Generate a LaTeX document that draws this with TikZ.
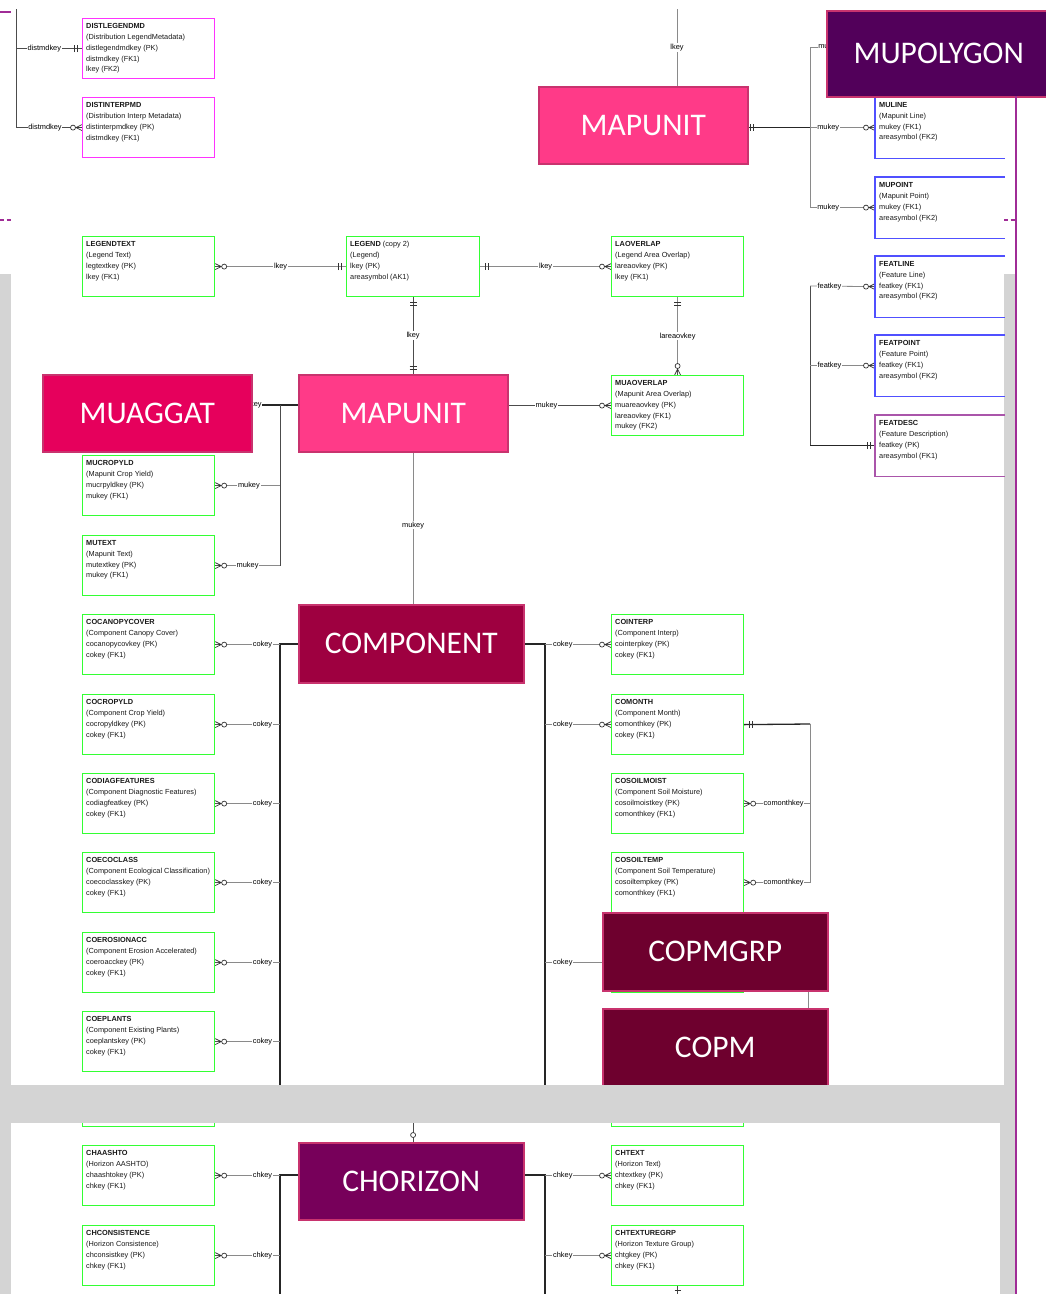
\documentclass[tikz,border=0pt]{standalone}
\usepackage{fontspec}
\setmainfont{Liberation Sans}
\newfontfamily\bigfont{Carlito}
\usetikzlibrary{positioning}

\definecolor{mupink}{HTML}{FF3A88}
\definecolor{aggpink}{HTML}{E6005C}
\definecolor{compred}{HTML}{9E0040}
\definecolor{copmred}{HTML}{6E002E}
\definecolor{horizon}{HTML}{77005A}
\definecolor{polyplum}{HTML}{52005A}
\definecolor{bigedge}{HTML}{C8336E}
\definecolor{entgreen}{HTML}{33FF33}
\definecolor{entmag}{HTML}{FF33FF}
\definecolor{entblue}{HTML}{5050FF}
\definecolor{entplum}{HTML}{AA55AA}
\definecolor{linkgray}{HTML}{8A8A8A}
\definecolor{slidegray}{HTML}{D4D4D4}
\definecolor{framepurple}{HTML}{A02C96}

\pgfdeclarelayer{slide}
\pgfdeclarelayer{wires}
\pgfdeclarelayer{front}
\pgfsetlayers{slide,wires,main,front}

\begin{document}
\begin{tikzpicture}[x=1pt, y=-1pt,
    ent/.style={draw=#1, line width=1.2pt, minimum width=132pt, minimum height=60pt, inner sep=0pt, anchor=north west},
    enttxt/.style={anchor=north west, inner sep=0pt, align=left, text=black!90, font=\fontsize{7.35}{10.8}\selectfont},
    bigent/.style={fill=#1, draw=bigedge, line width=1.5pt, text=white, font=\bigfont\fontsize{31.5}{38}\selectfont, minimum width=209pt, minimum height=77pt, inner sep=0pt, anchor=north west},
    lnk/.style={draw=linkgray, line width=0.8pt},
    blk/.style={draw=black!85, line width=1.3pt},
    keylbl/.style={fill=white, inner sep=0.8pt, font=\fontsize{7.4}{8}\selectfont},
    tipline/.style={draw=black!80, line width=0.7pt},
    zmany/.pic={\draw[tipline] (0,3) -- (6,0) -- (0,-3) (0,0) -- (6,0); \draw[tipline, fill=white] (9,0) circle (2.5);},
    oneone/.pic={\draw[tipline] (5,-3.5) -- (5,3.5) (8,-3.5) -- (8,3.5);}]

  \useasboundingbox (0,0) rectangle (1046,1294);

  \begin{pgfonlayer}{slide}
    \fill[white] (0,0) rectangle (1046,1294);
    \fill[slidegray] (0,274) rectangle (1016,1294);
    \fill[white] (11,274) rectangle (1004,1085);
    \fill[white] (11,1123) rectangle (1000,1294);
  \end{pgfonlayer}

  % entity boxes
  \node[ent=entmag] (distlegend) at (82,18) {};
  \node[enttxt] at ([shift={(4,5.3)}]distlegend.north west) {\textbf{DISTLEGENDMD}\\(Distribution LegendMetadata)\\distlegendmdkey (PK)\\distmdkey (FK1)\\lkey (FK2)};
  \node[ent=entmag] (distinterp) at (82,97) {};
  \node[enttxt] at ([shift={(4,5.3)}]distinterp.north west) {\textbf{DISTINTERPMD}\\(Distribution Interp Metadata)\\distinterpmdkey (PK)\\distmdkey (FK1)};
  \node[ent=entgreen, minimum width=133pt] (legend) at (346,236) {};
  \node[enttxt] at ([shift={(4,5.3)}]legend.north west) {\textbf{LEGEND} (copy 2)\\(Legend)\\lkey (PK)\\areasymbol (AK1)};
  \node[ent=entgreen] (muaoverlap) at (611,375) {};
  \node[enttxt] at ([shift={(4,5.3)}]muaoverlap.north west) {\textbf{MUAOVERLAP}\\(Mapunit Area Overlap)\\muareaovkey (PK)\\lareaovkey (FK1)\\mukey (FK2)};

  \foreach \n/\x/\y/\ttl/\sub/\pk/\fk in {
      legendtext/82/236/LEGENDTEXT/Legend Text/legtextkey (PK)/lkey (FK1),
      laoverlap/611/236/LAOVERLAP/Legend Area Overlap/lareaovkey (PK)/lkey (FK1),
      mucropyld/82/455/MUCROPYLD/Mapunit Crop Yield/mucrpyldkey (PK)/mukey (FK1),
      mutext/82/535/MUTEXT/Mapunit Text/mutextkey (PK)/mukey (FK1),
      cocanopy/82/614/COCANOPYCOVER/Component Canopy Cover/cocanopycovkey (PK)/cokey (FK1),
      cocropyld/82/694/COCROPYLD/Component Crop Yield/cocropyldkey (PK)/cokey (FK1),
      codiag/82/773/CODIAGFEATURES/Component Diagnostic Features/codiagfeatkey (PK)/cokey (FK1),
      coecoclass/82/852/COECOCLASS/Component Ecological Classification/coecoclasskey (PK)/cokey (FK1),
      coerosion/82/932/COEROSIONACC/Component Erosion Accelerated/coeroacckey (PK)/cokey (FK1),
      coeplants/82/1011/COEPLANTS/Component Existing Plants/coeplantskey (PK)/cokey (FK1),
      cointerp/611/614/COINTERP/Component Interp/cointerpkey (PK)/cokey (FK1),
      comonth/611/694/COMONTH/Component Month/comonthkey (PK)/cokey (FK1),
      cosoilmoist/611/773/COSOILMOIST/Component Soil Moisture/cosoilmoistkey (PK)/comonthkey (FK1),
      cosoiltemp/611/852/COSOILTEMP/Component Soil Temperature/cosoiltempkey (PK)/comonthkey (FK1),
      chaashto/82/1145/CHAASHTO/Horizon AASHTO/chaashtokey (PK)/chkey (FK1),
      chconsist/82/1225/CHCONSISTENCE/Horizon Consistence/chconsistkey (PK)/chkey (FK1),
      chtext/611/1145/CHTEXT/Horizon Text/chtextkey (PK)/chkey (FK1),
      chtexturegrp/611/1225/CHTEXTUREGRP/Horizon Texture Group/chtgkey (PK)/chkey (FK1)} {
    \node[ent=entgreen] (\n) at (\x,\y) {};
    \node[enttxt] at ([shift={(4,5.3)}]\n.north west) {\textbf{\ttl}\\(\sub)\\\pk\\\fk};
  }

  % boxes cut off by the big nodes and the page break
  \node[ent=entgreen] (copmhide) at (611,932) {};
  \node[ent=entgreen, minimum height=40pt] (copmstub) at (611,1086) {};
  \node[ent=entgreen, minimum height=40pt] (leftstub) at (82,1086) {};

  \foreach \n/\y/\ttl/\sub/\pk/\fk/\col in {
      muline/97/MULINE/Mapunit Line/mukey (FK1)/areasymbol (FK2)/entblue,
      mupoint/177/MUPOINT/Mapunit Point/mukey (FK1)/areasymbol (FK2)/entblue,
      featline/256/FEATLINE/Feature Line/featkey (FK1)/areasymbol (FK2)/entblue,
      featpoint/335/FEATPOINT/Feature Point/featkey (FK1)/areasymbol (FK2)/entblue,
      featdesc/415/FEATDESC/Feature Description/featkey (PK)/areasymbol (FK1)/entplum} {
    \node[ent=none, minimum width=129pt] (\n) at (875,\y) {};
    \draw[draw=\col, line width=1.2pt] (\n.north east) -- (\n.north west) -- (\n.south west) -- (\n.south east);
    \node[enttxt] at ([shift={(4,5.3)}]\n.north west) {\textbf{\ttl}\\(\sub)\\\pk\\\fk};
  }

  % big tables
  \node[bigent=mupink] (mapunittop) at (538,86) {MAPUNIT};
  \node[bigent=polyplum, minimum width=224pt, minimum height=86pt] (mupolygon) at (826,10) {MUPOLYGON};
  \node[bigent=aggpink] (muaggat) at (42,374) {MUAGGAT};
  \node[bigent=mupink] (mapunit) at (298,374) {MAPUNIT};
  \node[bigent=compred, minimum width=225pt, minimum height=78pt] (component) at (298,604) {COMPONENT};
  \node[bigent=copmred, minimum width=225pt, minimum height=78pt] (copmgrp) at (602,912) {COPMGRP};
  \node[bigent=copmred, minimum width=225pt] (copm) at (602,1008) {COPM};
  \node[bigent=horizon, minimum width=225pt] (chorizon) at (298,1142) {CHORIZON};

  \begin{pgfonlayer}{wires}
    % distribution metadata
    \coordinate (distbus) at (16,9);
    \draw[lnk, draw=black!70] (distbus) |- node[keylbl, pos=0.72] {distmdkey} (distinterp.west);
    \draw[lnk, draw=black!70] (distbus |- distlegend.west) -- node[keylbl, pos=0.43] {distmdkey} (distlegend.west);
    \pic[rotate=180] at (distlegend.west) {oneone};
    \pic[rotate=180] at (distinterp.west) {zmany};

    % mapunit, top copy
    \coordinate (lkeytop) at (677,9);
    \draw[lnk] (lkeytop) -- node[keylbl] {lkey} (lkeytop |- mapunittop.north);
    \coordinate (mubus) at (810,47);
    \coordinate (polyend) at (850,47);
    \draw[blk] (mapunittop.east |- muline.west) -- (mubus |- muline.west);
    \draw[lnk] (mubus) -- (mubus |- mupoint.west);
    \draw[lnk] (mubus) -- node[keylbl, pos=0.48] {mukey} (polyend);
    \draw[lnk] (mubus |- muline.west) -- node[keylbl, pos=0.28] {mukey} (muline.west);
    \draw[lnk] (mubus |- mupoint.west) -- node[keylbl, pos=0.28] {mukey} (mupoint.west);
    \pic at ([xshift=-3pt]mapunittop.east |- muline.west) {oneone};
    \pic[rotate=180] at (muline.west) {zmany};
    \pic[rotate=180] at (mupoint.west) {zmany};

    % features
    \coordinate (featbus) at (810,286);
    \draw[lnk, draw=black!70] (featbus) -- (featbus |- featdesc.west);
    \draw[blk] (featbus |- featdesc.west) -- (featdesc.west);
    \draw[lnk] (featbus) -- node[keylbl, pos=0.3] {featkey} (featline.west);
    \draw[lnk] (featbus |- featpoint.west) -- node[keylbl, pos=0.3] {featkey} (featpoint.west);
    \pic[rotate=180] at (featline.west) {zmany};
    \pic[rotate=180] at (featpoint.west) {zmany};
    \pic[rotate=180] at (featdesc.west) {oneone};

    % legend
    \draw[lnk] (legendtext.east) -- node[keylbl] {lkey} (legend.west);
    \draw[lnk] (legend.east) -- node[keylbl] {lkey} (laoverlap.west);
    \draw[lnk, draw=black!70] (legend.south) -- node[keylbl] {lkey} (legend.south |- mapunit.north);
    \draw[lnk] (laoverlap.south) -- node[keylbl] {lareaovkey} (muaoverlap.north);
    \draw[lnk, draw=black!70] (mapunit.east |- muaoverlap.west) -- node[keylbl, pos=0.37] {mukey} (muaoverlap.west);
    \pic at (legendtext.east) {zmany};
    \pic[rotate=180] at (legend.west) {oneone};
    \pic at (legend.east) {oneone};
    \pic[rotate=180] at (laoverlap.west) {zmany};
    \pic[rotate=-90] at (legend.south) {oneone};
    \pic[rotate=90] at (legend.south |- mapunit.north) {oneone};
    \pic[rotate=-90] at (laoverlap.south) {oneone};
    \pic[rotate=90] at (muaoverlap.north) {zmany};
    \pic[rotate=180] at (muaoverlap.west) {zmany};

    % mapunit children
    \coordinate (mubusl) at (280,405);
    \draw[blk] (mapunit.west |- mubusl) -- node[keylbl, pos=1.04] {mukey} (muaggat.east |- mubusl);
    \draw[lnk, draw=black!70] (mubusl) -- (mubusl |- mutext.east);
    \draw[lnk] (mucropyld.east) -- node[keylbl, pos=0.52] {mukey} (mucropyld.east -| mubusl);
    \draw[lnk] (mutext.east) -- node[keylbl, pos=0.5] {mukey} (mutext.east -| mubusl);
    \pic at (mucropyld.east) {zmany};
    \pic at (mutext.east) {zmany};
    \draw[lnk] (legend.south |- mapunit.south) -- node[keylbl, pos=0.48] {mukey} (legend.south |- component.north);

    % component
    \coordinate (bandtop) at (0,1085);
    \coordinate (cobusl) at (280,644);
    \coordinate (cobusr) at (545,644);
    \draw[blk] (component.west |- cobusl) -- (cobusl) -- (cobusl |- bandtop);
    \draw[blk] (component.east |- cobusr) -- (cobusr) -- (cobusr |- bandtop);
    \foreach \n in {cocanopy, cocropyld, codiag, coecoclass, coerosion, coeplants} {
      \draw[lnk] (\n.east) -- node[keylbl, pos=0.73] {cokey} (\n.east -| cobusl);
      \pic at (\n.east) {zmany};
    }
    \foreach \n in {cointerp, comonth} {
      \draw[lnk] (cobusr |- \n.west) -- node[keylbl, pos=0.27] {cokey} (\n.west);
      \pic[rotate=180] at (\n.west) {zmany};
    }
    \draw[lnk] (cobusr |- copmhide.west) -- node[keylbl, pos=0.27] {cokey} (copmhide.west);

    % component month
    \coordinate (monthbus) at (810,724);
    \draw[blk] (comonth.east) -- (monthbus);
    \draw[lnk] (monthbus) -- (monthbus |- cosoiltemp.east);
    \pic at (comonth.east) {oneone};
    \foreach \n in {cosoilmoist, cosoiltemp} {
      \draw[lnk] (\n.east) -- node[keylbl, pos=0.6] {comonthkey} (\n.east -| monthbus);
      \pic at (\n.east) {zmany};
    }

    % parent material
    \coordinate (pmlink) at (808,990);
    \draw[lnk] (pmlink) -- (pmlink |- copm.north);

    % horizon
    \coordinate (bandbot) at (0,1123);
    \coordinate (pagebot) at (0,1294);
    \draw[lnk, draw=black!70] (legend.south |- bandbot) -- (legend.south |- chorizon.north);
    \draw[tipline, fill=white] (legend.south |- 0,1135) circle (2.5);
    \coordinate (chbusl) at (280,1175);
    \coordinate (chbusr) at (545,1175);
    \draw[blk] (chorizon.west |- chbusl) -- (chbusl) -- (chbusl |- pagebot);
    \draw[blk] (chorizon.east |- chbusr) -- (chbusr) -- (chbusr |- pagebot);
    \foreach \n in {chaashto, chconsist} {
      \draw[lnk] (\n.east) -- node[keylbl, pos=0.73] {chkey} (\n.east -| chbusl);
      \pic at (\n.east) {zmany};
    }
    \foreach \n in {chtext, chtexturegrp} {
      \draw[lnk] (chbusr |- \n.west) -- node[keylbl, pos=0.27] {chkey} (\n.west);
      \pic[rotate=180] at (\n.west) {zmany};
    }
    \draw[lnk, draw=black!70] (chtexturegrp.south) -- (chtexturegrp.south |- pagebot);
    \draw[tipline] (chtexturegrp.south |- 0,1290) +(-3,0) -- +(3,0);
  \end{pgfonlayer}

  \begin{pgfonlayer}{front}
    \fill[slidegray] (0,1085) rectangle (1016,1123);
    \coordinate (frametop) at (1016,96);
    \draw[framepurple, line width=2pt] (frametop) -- (frametop |- pagebot);
    \draw[framepurple, line width=2pt] (0,12) -- (11,12);
    \draw[framepurple, line width=2pt, dash pattern=on 4pt off 2.5pt] (0,220) -- (11,220);
    \draw[framepurple, line width=2pt, dash pattern=on 4pt off 2.5pt] (1004,220) -- (1015,220);
  \end{pgfonlayer}
\end{tikzpicture}
\end{document}
